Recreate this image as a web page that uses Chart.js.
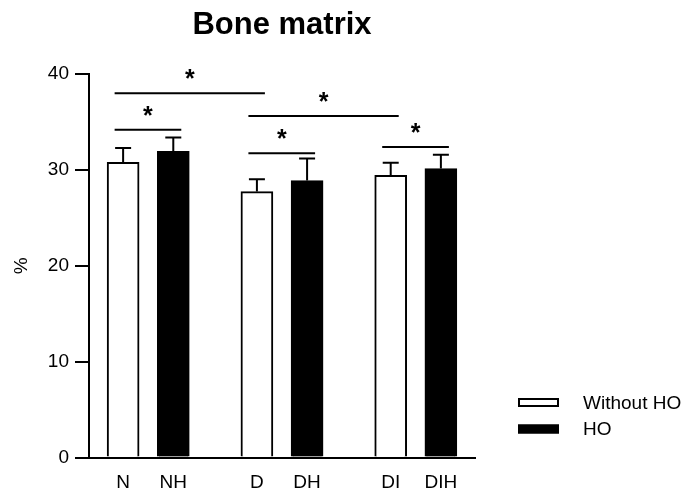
<!DOCTYPE html>
<html>
<head>
<meta charset="utf-8">
<script src="https://cdn.jsdelivr.net/npm/chart.js@4.4.0/dist/chart.umd.min.js"></script>
<style>
  html, body { margin: 0; padding: 0; background: #fff; }
  #wrap { width: 687px; height: 493px; }
</style>
</head>
<body>
<div id="wrap"><canvas id="chart"></canvas></div>
<script>
// Data
const barLabels = ['N', 'NH', 'D', 'DH', 'DI', 'DIH'];
const withoutHoMean = [30.8, 27.75, 29.45];
const withoutHoErr = [1.5, 1.3, 1.3];
const hoMean = [31.95, 28.9, 30.15];
const hoErr = [1.45, 2.3, 1.45];
const yTicks = [0, 10, 20, 30, 40];
// significance brackets: from bar, to bar, height (%)
const sigFrom = [0, 0, 2, 2, 4];
const sigTo = [1, 2, 3, 4, 5];
const sigLevel = [34.2, 38.0, 31.75, 35.65, 32.4];

const FONT = "'Liberation Sans', Arial, Helvetica, sans-serif";
Chart.defaults.font.family = FONT;
Chart.defaults.color = '#000';

// bars sit in pairs, with a wider gap between the pairs
function slot(i) {
    return i + Math.floor(i / 2) * 2 / 3;
}

const errorBars = {
    id: 'errorBars',
    afterDatasetsDraw(chart) {
        const ctx = chart.ctx;
        const yScale = chart.scales.y;
        ctx.save();
        ctx.strokeStyle = '#000';
        ctx.lineWidth = 2;
        chart.data.datasets.forEach((ds, d) => {
            const meta = chart.getDatasetMeta(d);
            meta.data.forEach((bar, i) => {
                const top = yScale.getPixelForValue(ds.data[i].y + ds.err[i]);
                ctx.beginPath();
                ctx.moveTo(bar.x, bar.y);
                ctx.lineTo(bar.x, top);
                ctx.moveTo(bar.x - 8, top);
                ctx.lineTo(bar.x + 8, top);
                ctx.stroke();
            });
        });
        ctx.restore();
    }
};

const significance = {
    id: 'significance',
    afterDraw(chart) {
        const ctx = chart.ctx;
        const xs = chart.scales.x;
        const ys = chart.scales.y;
        ctx.save();
        ctx.strokeStyle = '#000';
        ctx.fillStyle = '#000';
        ctx.lineWidth = 2;
        ctx.font = 'bold 25px ' + FONT;
        ctx.textAlign = 'center';
        ctx.textBaseline = 'alphabetic';
        sigFrom.forEach((from, k) => {
            const x1 = xs.getPixelForValue(slot(from)) - 8.5;
            const x2 = xs.getPixelForValue(slot(sigTo[k])) + 8;
            const y = ys.getPixelForValue(sigLevel[k]);
            ctx.beginPath();
            ctx.moveTo(x1, y);
            ctx.lineTo(x2, y);
            ctx.stroke();
            ctx.fillText('*', (x1 + x2) / 2, y - 6);
        });
        ctx.restore();
    }
};

const sideLegend = {
    id: 'sideLegend',
    afterDraw(chart) {
        const ctx = chart.ctx;
        const area = chart.chartArea;
        const x = area.right + 43;
        ctx.save();
        ctx.font = '19px ' + FONT;
        ctx.textBaseline = 'middle';
        ctx.textAlign = 'left';
        chart.data.datasets.forEach((ds, d) => {
            const cy = area.bottom - 55 + d * 26.5;
            ctx.fillStyle = ds.backgroundColor;
            ctx.fillRect(x, cy - 4.5, 41, 9);
            ctx.strokeStyle = '#000';
            ctx.lineWidth = 2;
            ctx.strokeRect(x + 1, cy - 3.5, 39, 7);
            ctx.fillStyle = '#000';
            ctx.fillText(ds.label, x + 65, cy + 1);
        });
        ctx.restore();
    }
};

new Chart(document.getElementById('chart'), {
    type: 'bar',
    data: {
        datasets: [
            {
                label: 'Without HO',
                data: withoutHoMean.map((v, g) => ({ x: slot(2 * g), y: v })),
                err: withoutHoErr,
                backgroundColor: '#ffffff',
                borderColor: '#000',
                borderWidth: 2,
                borderSkipped: 'start'
            },
            {
                label: 'HO',
                data: hoMean.map((v, g) => ({ x: slot(2 * g + 1), y: v })),
                err: hoErr,
                backgroundColor: '#000000',
                borderColor: '#000',
                borderWidth: 2,
                borderSkipped: 'start'
            }
        ]
    },
    options: {
        responsive: true,
        maintainAspectRatio: false,
        animation: false,
        grouped: false,
        barThickness: 32,
        layout: { padding: { left: 0, right: 212, top: 0, bottom: 0 } },
        plugins: {
            legend: { display: false },
            tooltip: { enabled: false },
            title: {
                display: true,
                text: 'Bone matrix',
                fullSize: false,
                color: '#000',
                font: { size: 31, weight: 'bold' },
                padding: { top: 7, bottom: 30 }
            }
        },
        scales: {
            x: {
                type: 'linear',
                bounds: 'data',
                offset: false,
                min: -0.68,
                max: 19 / 3 + 0.68,
                afterBuildTicks: axis => {
                    axis.ticks = barLabels.map((l, i) => ({ value: slot(i) }));
                },
                afterFit: axis => { axis.height = 35.5; },
                ticks: {
                    autoSkip: false,
                    maxRotation: 0,
                    padding: 14,
                    color: '#000',
                    font: { size: 19 },
                    callback: (value, index) => barLabels[index]
                },
                grid: { offset: false, drawOnChartArea: false, drawTicks: false },
                border: { color: '#000', width: 2 }
            },
            y: {
                min: 0,
                max: 40,
                afterBuildTicks: axis => {
                    axis.ticks = yTicks.map(v => ({ value: v }));
                },
                afterFit: axis => { axis.width = 89; },
                ticks: { padding: 6, color: '#000', font: { size: 19 } },
                grid: { drawOnChartArea: false, drawTicks: true, tickLength: 14, color: '#000', lineWidth: 2 },
                border: { color: '#000', width: 2 },
                title: {
                    display: true,
                    text: '%',
                    color: '#000',
                    font: { size: 19 },
                    padding: { top: 10.6, bottom: 0 }
                }
            }
        }
    },
    plugins: [errorBars, significance, sideLegend]
});
</script>
</body>
</html>
